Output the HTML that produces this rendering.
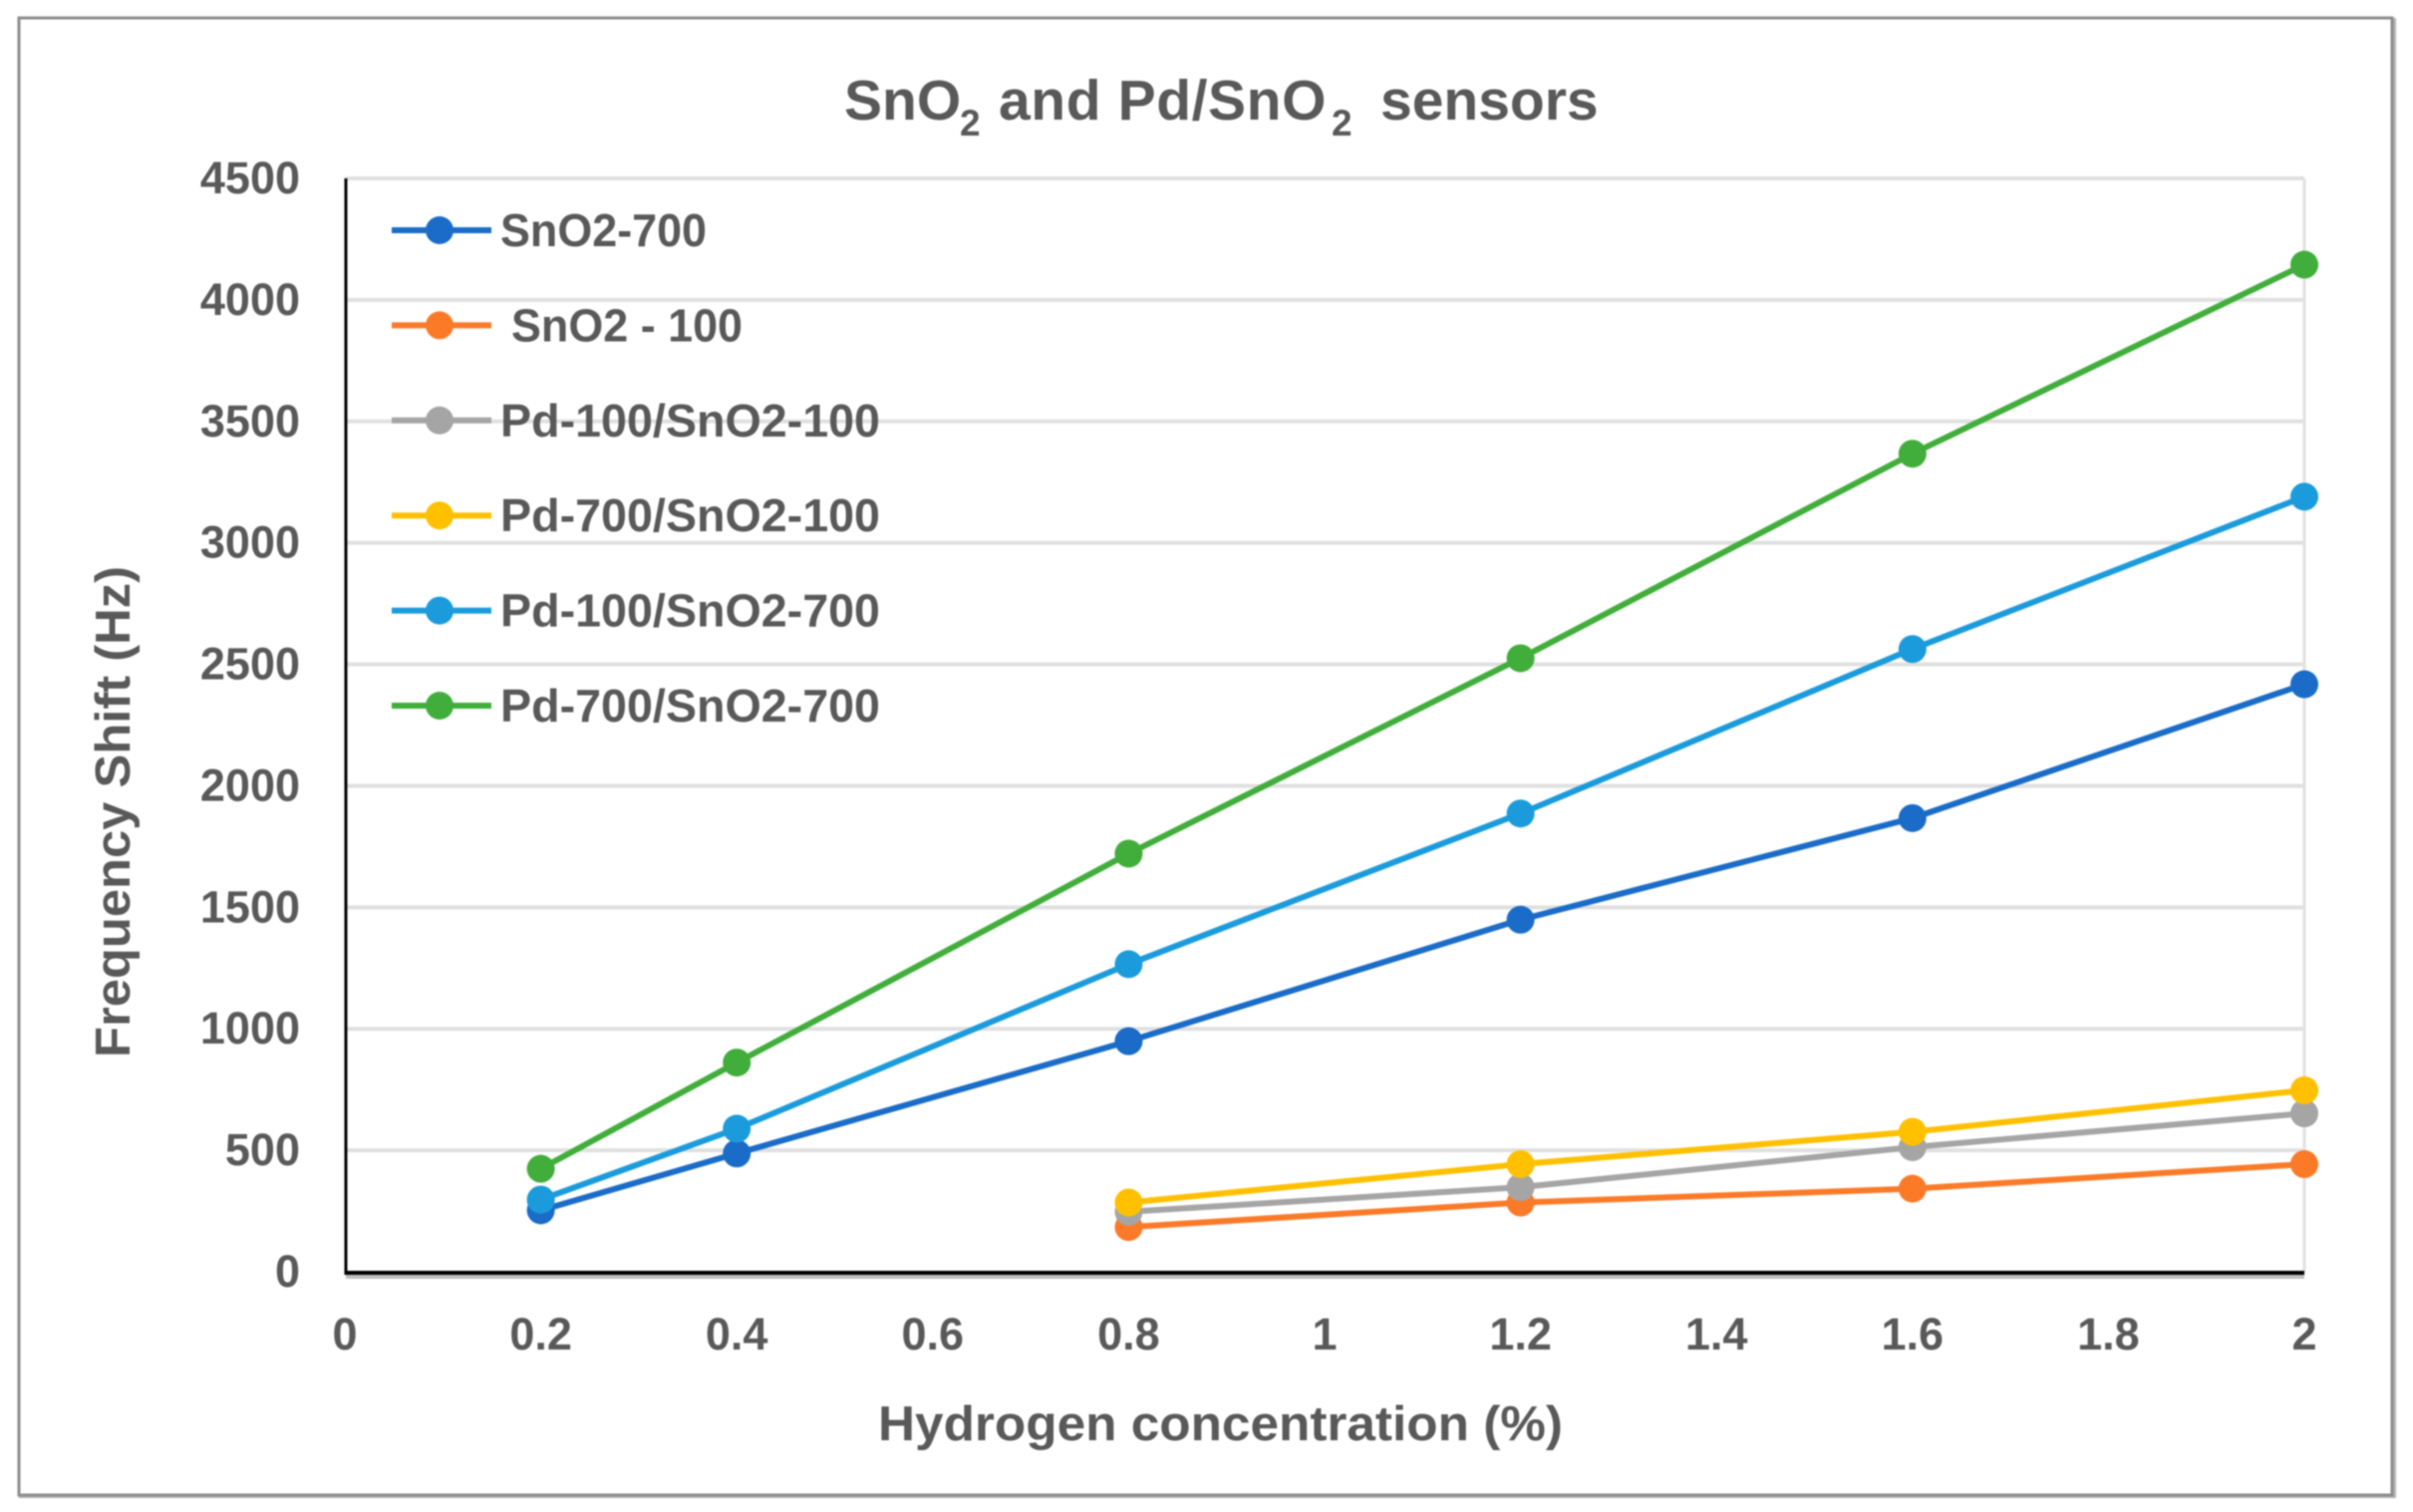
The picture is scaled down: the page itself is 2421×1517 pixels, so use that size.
<!DOCTYPE html>
<html lang="en">
<head>
<meta charset="utf-8">
<title>SnO2 and Pd/SnO2 sensors</title>
<style>
  html, body { margin: 0; padding: 0; background: #fff; }
  svg { display: block; filter: blur(0.8px); }
  text { font-family: "Liberation Sans", sans-serif; font-weight: bold; fill: #595959; }
  .tick { font-size: 45px; }
  .leg { font-size: 46px; }
</style>
</head>
<body>
<svg id="chart" xmlns="http://www.w3.org/2000/svg" width="2421" height="1517" viewBox="0 0 2421 1517">
  <rect x="19" y="18" width="2385" height="1485" fill="#b5b5b5"/>
  <rect x="19" y="18" width="2381" height="1482" fill="#fff" stroke="#8c8c8c" stroke-width="3"/>
  <text font-size="57" y="120"><tspan x="847">SnO</tspan><tspan x="963" y="136" font-size="37">2</tspan><tspan x="1002" y="120" letter-spacing="0.6">and Pd/SnO</tspan><tspan x="1336" y="136" font-size="37">2</tspan><tspan x="1385" y="120">sensors</tspan></text>
  <g id="grid"></g>
  <g id="xticks"></g>
  <g id="yticks"></g>
  <rect x="347" y="1276" width="1965" height="7" fill="#bdbdbd"/>
  <rect x="345.5" y="179" width="3" height="1100" fill="#000"/>
  <rect x="345.5" y="1275" width="1966.5" height="4" fill="#000"/>
  <text x="881" y="1445" font-size="49" textLength="687" lengthAdjust="spacingAndGlyphs">Hydrogen concentration (%)</text>
  <text transform="translate(130,1061) rotate(-90)" font-size="49" textLength="493" lengthAdjust="spacingAndGlyphs">Frequency Shift (Hz)</text>
  <g id="series"></g>
  <g id="legend"></g>
</svg>
<script>
const xTicks = [0, 0.2, 0.4, 0.6, 0.8, 1, 1.2, 1.4, 1.6, 1.8, 2];
const yTicks = [0, 500, 1000, 1500, 2000, 2500, 3000, 3500, 4000, 4500];

const sno2700X = [0.2, 0.4, 0.8, 1.2, 1.6, 2];
const sno2700Y = [253, 487, 949, 1449, 1867, 2418];
const sno2100X = [0.8, 1.2, 1.6, 2];
const sno2100Y = [184, 285, 342, 443];
const pd100Sno2100X = [0.8, 1.2, 1.6, 2];
const pd100Sno2100Y = [247, 348, 513, 652];
const pd700Sno2100X = [0.8, 1.2, 1.6, 2];
const pd700Sno2100Y = [285, 443, 576, 747];
const pd100Sno2700X = [0.2, 0.4, 0.8, 1.2, 1.6, 2];
const pd100Sno2700Y = [297, 589, 1266, 1886, 2563, 3190];
const pd700Sno2700X = [0.2, 0.4, 0.8, 1.2, 1.6, 2];
const pd700Sno2700Y = [424, 861, 1721, 2525, 3367, 4145];

const seriesNames = ["SnO2-700", " SnO2 - 100", "Pd-100/SnO2-100", "Pd-700/SnO2-100", "Pd-100/SnO2-700", "Pd-700/SnO2-700"];
const seriesColors = ["#1a6cc8", "#fb7a28", "#a5a5a5", "#ffc000", "#1b9bdc", "#41ae3c"];
const seriesXs = [sno2700X, sno2100X, pd100Sno2100X, pd700Sno2100X, pd100Sno2700X, pd700Sno2700X];
const seriesYs = [sno2700Y, sno2100Y, pd100Sno2100Y, pd700Sno2100Y, pd100Sno2700Y, pd700Sno2700Y];

const NS = "http://www.w3.org/2000/svg";
function xScale(v) { return 346 + (v - 0) * (2312 - 346) / 2; }
function yScale(v) { return 1276 - v * (1276 - 179) / 4500; }
function make(tag, attrs, parent) {
  const el = document.createElementNS(NS, tag);
  for (const k in attrs) el.setAttribute(k, attrs[k]);
  parent.appendChild(el);
  return el;
}
function slug(s) { return s.trim().toLowerCase().replace(/[^a-z0-9]+/g, "-"); }

const gridG = document.getElementById("grid");
const xG = document.getElementById("xticks");
const yG = document.getElementById("yticks");
const seriesG = document.getElementById("series");
const legendG = document.getElementById("legend");

yTicks.forEach(function (t) {
  if (t > 0) {
    const g = make("line", { x1: xScale(0), x2: xScale(2), y1: yScale(t), y2: yScale(t), stroke: "#e0e0e0", "stroke-width": 4 }, gridG);
    
    
  }
  const lab = make("text", { class: "tick", x: 301, y: yScale(t) + 15, "text-anchor": "end" }, yG);
  lab.textContent = String(t);
  
  
});
const rightEdge = make("line", { x1: xScale(2), x2: xScale(2), y1: yScale(4500), y2: yScale(0), stroke: "#e2e2e2", "stroke-width": 3 }, gridG);



xTicks.forEach(function (t) {
  const lab = make("text", { class: "tick", x: xScale(t), y: 1354, "text-anchor": "middle" }, xG);
  lab.textContent = String(t);
  
  
});

seriesNames.forEach(function (name, i) {
  const group = make("g", {}, seriesG);
  
  
  const xs = seriesXs[i], ys = seriesYs[i];
  const pts = xs.map(function (x, j) { return xScale(x) + "," + yScale(ys[j]); }).join(" ");
  const line = make("polyline", { points: pts, fill: "none", stroke: seriesColors[i], "stroke-width": 6, "stroke-linejoin": "round" }, group);
  
  
  xs.forEach(function (x, j) {
    const c = make("circle", { cx: xScale(x), cy: yScale(ys[j]), r: 14, fill: seriesColors[i] }, group);
    
    
  });
});

function legendY(i) { return 231 + i * 95.4; }
function legendTextX(i) { return i === 1 ? 513 : 502; }
function legendTextW(i) { return i === 0 ? 207 : (i === 1 ? 232 : 381); }
seriesNames.forEach(function (name, i) {
  const item = make("g", {}, legendG);
  
  
  const y = legendY(i);
  const l = make("line", { x1: 393, x2: 493, y1: y, y2: y, stroke: seriesColors[i], "stroke-width": 6 }, item);
  
  
  const m = make("circle", { cx: 441, cy: y, r: 14, fill: seriesColors[i] }, item);
  
  
  const t = make("text", { class: "leg", x: legendTextX(i), y: y + 16, textLength: legendTextW(i), lengthAdjust: "spacingAndGlyphs" }, item);
  t.textContent = name.trim();
  
  
});
</script>
</body>
</html>
